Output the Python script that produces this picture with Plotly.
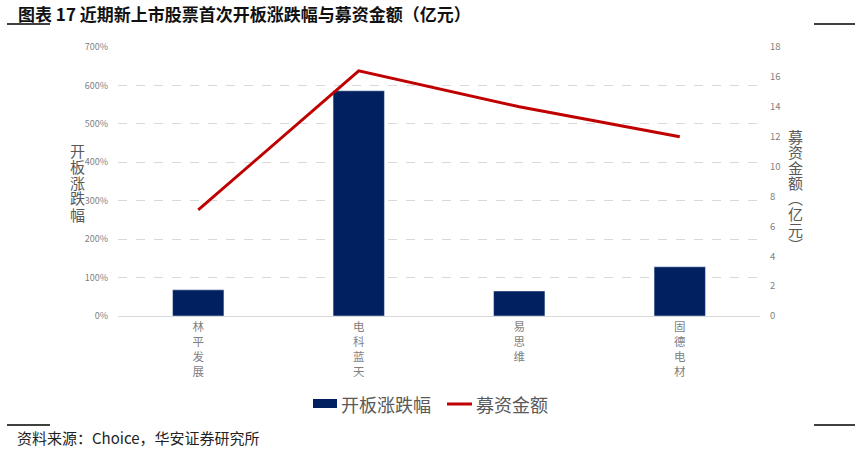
import plotly.graph_objects as go

# Data
stocks = ["林平发展", "电科蓝天", "易思维", "固德电材"]
open_change = [0.68, 5.86, 0.65, 1.28]   # 开板涨跌幅 (ratio)
raised = [7.1, 16.4, 14.0, 12.0]          # 募资金额 (亿元)

left_ticks = [0, 1, 2, 3, 4, 5, 6, 7]
right_ticks = [0, 2, 4, 6, 8, 10, 12, 14, 16, 18]

FONT = "Noto Sans CJK SC"
GREY = "#595959"
TICK_GREY = "#7f7f7f"
NAVY = "#002060"
RED = "#c00000"

# Plot area in page pixels
L, R, T, B = 118, 760, 47, 316


def px(x):
    return (x - L) / (R - L)


def py(y):
    return (B - y) / (B - T)


def stack(text):
    """Stack characters vertically."""
    return "<br>".join(text)


fig = go.Figure()

fig.add_trace(go.Bar(
    x=stocks,
    y=open_change,
    name="开板涨跌幅",
    marker=dict(color=NAVY),
    width=0.32,
    yaxis="y",
    showlegend=False,
))

fig.add_trace(go.Scatter(
    x=stocks,
    y=raised,
    name="募资金额",
    mode="lines",
    line=dict(color=RED, width=3),
    yaxis="y2",
    showlegend=False,
))

fig.update_layout(
    width=859,
    height=449,
    margin=dict(l=L, r=859 - R, t=T, b=449 - B, autoexpand=False),
    plot_bgcolor="white",
    paper_bgcolor="white",
    font=dict(family=FONT, color=GREY),
    xaxis=dict(
        tickvals=stocks,
        ticktext=[stack(s) for s in stocks],
        tickfont=dict(size=11.5, color=TICK_GREY),
        showline=True,
        linecolor="#d9d9d9",
        linewidth=1,
        showgrid=False,
        ticks="",
    ),
    yaxis=dict(
        range=[0, 7],
        tickvals=left_ticks,
        tickformat=".0%",
        tickfont=dict(size=9, color=TICK_GREY),
        showgrid=True,
        gridcolor="#d9d9d9",
        griddash="dash",
        zeroline=False,
        ticks="",
        ticklabelstandoff=9,
    ),
    yaxis2=dict(
        range=[0, 18],
        tickvals=right_ticks,
        tickfont=dict(size=9.5, color=TICK_GREY),
        overlaying="y",
        side="right",
        showgrid=False,
        zeroline=False,
        ticks="",
        ticklabelstandoff=9,
    ),
    showlegend=False,
)

# Axis titles: one character per annotation for tight vertical stacking
for i, ch in enumerate("开板涨跌幅"):
    fig.add_annotation(
        xref="paper", yref="paper", x=px(77), y=py(150 + 16 * i),
        text=ch, showarrow=False,
        font=dict(size=15, color=GREY), xanchor="center", yanchor="middle",
    )
for i, ch in enumerate("募资金额︵亿元︶"):
    fig.add_annotation(
        xref="paper", yref="paper", x=px(795), y=py(136 + 15.5 * i),
        text=ch, showarrow=False,
        font=dict(size=15, color=GREY), xanchor="center", yanchor="middle",
    )

# Legend drawn by hand to match the tight symbol/text spacing
fig.add_shape(
    type="rect", xref="paper", yref="paper",
    x0=px(313), x1=px(337), y0=py(399), y1=py(408),
    fillcolor=NAVY, line=dict(width=0),
)
fig.add_annotation(
    xref="paper", yref="paper", x=px(339), y=py(404),
    text="开板涨跌幅", showarrow=False, xanchor="left", yanchor="middle",
    font=dict(size=18, color=GREY),
)
fig.add_shape(
    type="line", xref="paper", yref="paper",
    x0=px(447), x1=px(472), y0=py(404), y1=py(404),
    line=dict(color=RED, width=3),
)
fig.add_annotation(
    xref="paper", yref="paper", x=px(474), y=py(404),
    text="募资金额", showarrow=False, xanchor="left", yanchor="middle",
    font=dict(size=18, color=GREY),
)

# Title and source
fig.add_annotation(
    xref="paper", yref="paper", x=px(16), y=py(13),
    text="<b>图表 17 近期新上市股票首次开板涨跌幅与募资金额（亿元）</b>",
    showarrow=False, xanchor="left", yanchor="middle",
    font=dict(size=17, color="#111111"),
)
fig.add_annotation(
    xref="paper", yref="paper", x=px(15), y=py(437),
    text="资料来源：Choice，华安证券研究所",
    showarrow=False, xanchor="left", yanchor="middle",
    font=dict(size=15, color="#222222"),
)

# Decorative rules at the corners
for y in (24, 425):
    for x0, x1 in ((7, 50), (814, 855)):
        fig.add_shape(
            type="line", xref="paper", yref="paper",
            x0=px(x0), x1=px(x1), y0=py(y), y1=py(y),
            line=dict(color="black", width=1.5),
        )

fig.write_html(
    "out.html",
    config={"displayModeBar": False},
    post_script="document.body.style.margin='0';",
)
